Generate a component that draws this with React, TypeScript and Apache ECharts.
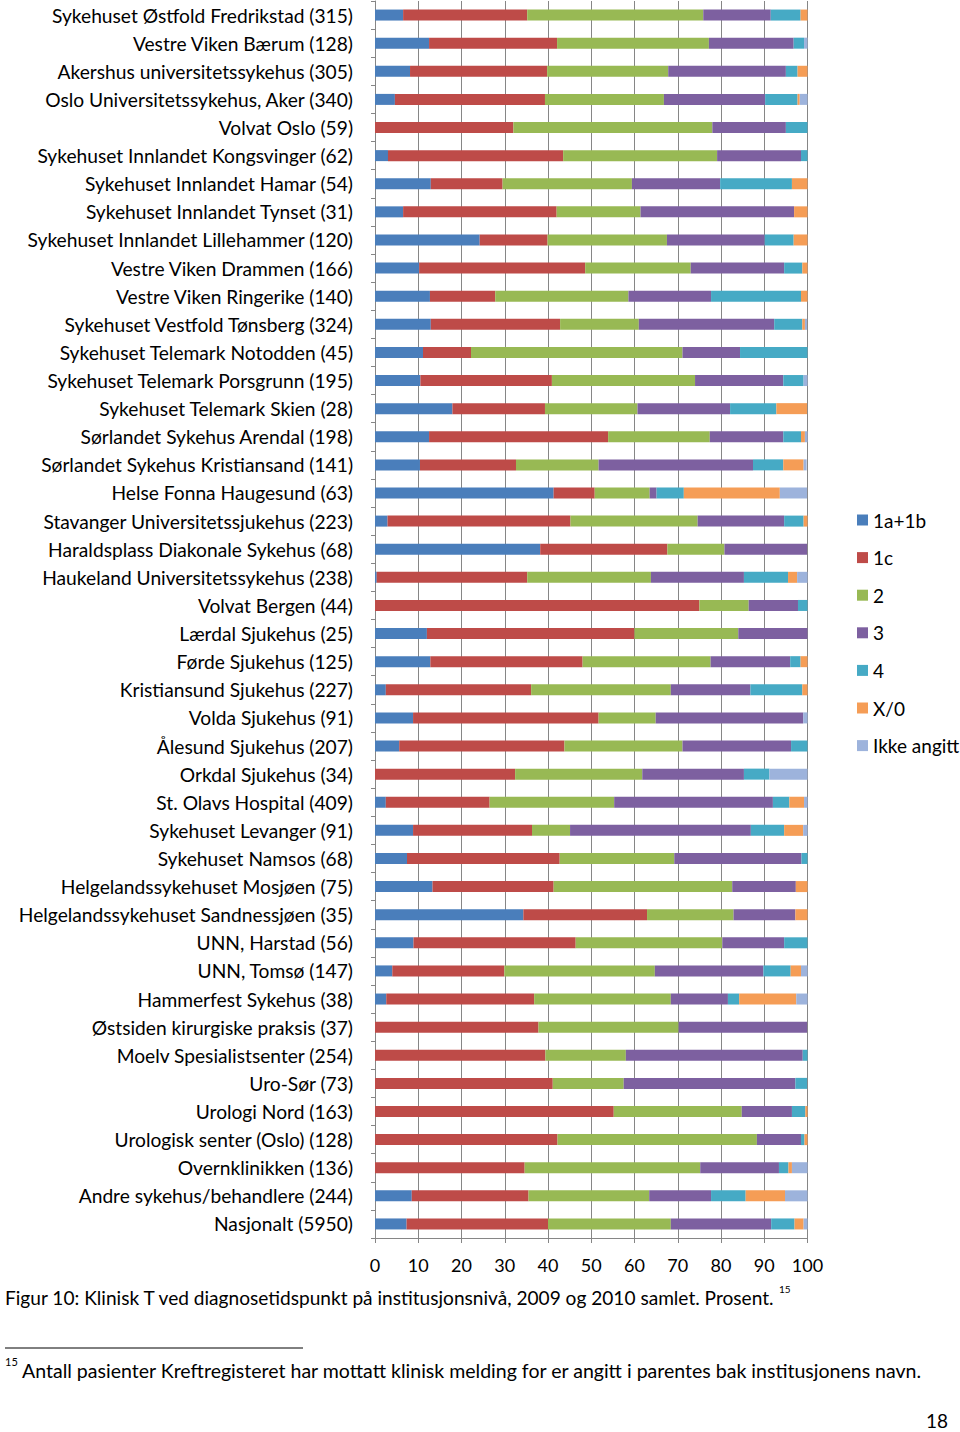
import React, { useEffect, useRef } from "react";
import * as echarts from "echarts";

const categories = [
  "Sykehuset Østfold Fredrikstad (315)",
  "Vestre Viken Bærum (128)",
  "Akershus universitetssykehus (305)",
  "Oslo Universitetssykehus, Aker (340)",
  "Volvat Oslo (59)",
  "Sykehuset Innlandet Kongsvinger (62)",
  "Sykehuset Innlandet Hamar (54)",
  "Sykehuset Innlandet Tynset (31)",
  "Sykehuset Innlandet Lillehammer (120)",
  "Vestre Viken Drammen (166)",
  "Vestre Viken Ringerike (140)",
  "Sykehuset Vestfold Tønsberg (324)",
  "Sykehuset Telemark Notodden (45)",
  "Sykehuset Telemark Porsgrunn (195)",
  "Sykehuset Telemark Skien (28)",
  "Sørlandet Sykehus Arendal (198)",
  "Sørlandet Sykehus Kristiansand (141)",
  "Helse Fonna Haugesund (63)",
  "Stavanger Universitetssjukehus (223)",
  "Haraldsplass Diakonale Sykehus (68)",
  "Haukeland Universitetssykehus (238)",
  "Volvat Bergen (44)",
  "Lærdal Sjukehus (25)",
  "Førde Sjukehus (125)",
  "Kristiansund Sjukehus (227)",
  "Volda Sjukehus (91)",
  "Ålesund Sjukehus (207)",
  "Orkdal Sjukehus (34)",
  "St. Olavs Hospital (409)",
  "Sykehuset Levanger (91)",
  "Sykehuset Namsos (68)",
  "Helgelandssykehuset Mosjøen (75)",
  "Helgelandssykehuset Sandnessjøen (35)",
  "UNN, Harstad (56)",
  "UNN, Tomsø (147)",
  "Hammerfest Sykehus (38)",
  "Østsiden kirurgiske praksis (37)",
  "Moelv Spesialistsenter (254)",
  "Uro-Sør (73)",
  "Urologi Nord (163)",
  "Urologisk senter (Oslo) (128)",
  "Overnklinikken (136)",
  "Andre sykehus/behandlere (244)",
  "Nasjonalt (5950)",
];

const seriesNames = ["1a+1b", "1c", "2", "3", "4", "X/0", "Ikke angitt"];

const t1ab = [6.5, 12.5, 8.1, 4.6, 0, 3.0, 12.9, 6.5, 24.2, 10.2, 12.7, 12.9, 11.1, 10.5, 17.9, 12.5, 10.4, 41.3, 2.9, 38.2, 0.4, 0, 12.0, 12.8, 2.5, 8.8, 5.6, 0, 2.5, 8.8, 7.4, 13.3, 34.3, 8.9, 4.0, 2.6, 0, 0, 0, 0, 0, 0, 8.5, 7.3];
const t1c = [28.7, 29.6, 31.7, 34.7, 32.0, 40.5, 16.6, 35.5, 15.7, 38.4, 15.1, 29.9, 11.1, 30.4, 21.4, 41.4, 22.2, 9.5, 42.3, 29.4, 34.8, 75.0, 48.0, 35.2, 33.6, 42.9, 38.2, 32.4, 24.0, 27.5, 35.3, 28.0, 28.6, 37.5, 25.9, 34.2, 37.8, 39.4, 41.1, 55.2, 42.2, 34.6, 27.0, 32.7];
const t2 = [40.7, 35.1, 28.0, 27.5, 46.0, 35.6, 29.9, 19.4, 27.6, 24.4, 30.8, 18.2, 48.9, 33.1, 21.4, 23.5, 19.1, 12.7, 29.4, 13.2, 28.6, 11.4, 24.0, 29.6, 32.3, 13.2, 27.3, 29.4, 28.8, 8.8, 26.5, 41.3, 20.0, 33.9, 34.8, 31.6, 32.4, 18.6, 16.4, 29.6, 46.1, 40.6, 27.9, 28.4];
const t3 = [15.6, 19.6, 27.2, 23.4, 17.0, 19.4, 20.4, 35.5, 22.6, 21.6, 19.1, 31.3, 13.3, 20.4, 21.4, 17.0, 35.7, 1.6, 20.0, 19.1, 21.5, 11.4, 16.0, 18.4, 18.4, 34.1, 25.1, 23.5, 36.7, 41.8, 29.4, 14.7, 14.3, 14.3, 25.1, 13.2, 29.7, 40.9, 39.7, 11.6, 10.2, 18.2, 14.3, 23.2];
const t4 = [6.9, 2.4, 2.7, 7.5, 5.0, 1.5, 16.6, 0, 6.7, 4.2, 20.8, 6.5, 15.6, 4.7, 10.7, 4.1, 7.0, 6.3, 4.5, 0, 10.2, 2.3, 0, 2.4, 12.0, 0, 3.8, 5.9, 3.8, 7.7, 1.5, 0, 0, 5.4, 6.3, 2.6, 0, 1.1, 2.7, 3.1, 0.8, 2.2, 8.0, 5.4];
const tX = [1.6, 0, 2.3, 0.5, 0, 0, 3.6, 3.2, 3.2, 1.2, 1.5, 0.6, 0, 0, 7.1, 0.9, 4.7, 22.2, 0.9, 0, 2.1, 0, 0, 1.6, 1.2, 0, 0, 0, 3.4, 4.4, 0, 2.7, 2.9, 0, 2.4, 13.2, 0, 0, 0, 0.5, 0.8, 0.8, 9.1, 2.1];
const tIkke = [0, 0.8, 0, 1.8, 0, 0, 0, 0, 0, 0, 0, 0.5, 0, 0.9, 0, 0.6, 0.7, 6.3, 0, 0, 2.4, 0, 0, 0, 0, 1.1, 0, 8.8, 0.8, 1.1, 0, 0, 0, 0, 1.5, 2.6, 0, 0, 0, 0, 0, 3.6, 5.2, 0.9];

const xTicks = [0, 10, 20, 30, 40, 50, 60, 70, 80, 90, 100];

const colors = ["#4A7EBB", "#BE4B48", "#98B954", "#7D60A0", "#46AAC5", "#F59D56", "#9DB3DC"];

const FONT = "Lato, 'Open Sans', sans-serif";

export default function App() {
  const ref = useRef<HTMLDivElement>(null);
  useEffect(() => {
    if (!ref.current) return;
    const chart = echarts.init(ref.current, null, { renderer: "svg" });
    const allData = [t1ab, t1c, t2, t3, t4, tX, tIkke];
    chart.setOption({
      animation: false,
      color: colors,
      textStyle: { fontFamily: FONT },
      grid: { left: 375, right: 152.5, top: 1, bottom: 194, containLabel: false },
      legend: {
        orient: "vertical",
        left: 852,
        top: 505,
        icon: "rect",
        itemWidth: 11,
        itemHeight: 11,
        itemGap: 17.6,
        textStyle: { fontSize: 19, color: "#000", fontFamily: FONT, lineHeight: 20, padding: [0, 0, 0, 0] },
        data: seriesNames,
      },
      xAxis: {
        type: "value",
        min: xTicks[0],
        max: xTicks[xTicks.length - 1],
        interval: 10,
        axisLine: { show: true, lineStyle: { color: "#868686", width: 1 } },
        axisTick: { show: true, length: 5, lineStyle: { color: "#868686" } },
        splitLine: { show: true, lineStyle: { color: "#868686", width: 1 } },
        axisLabel: { fontSize: 18, color: "#000", margin: 18, fontFamily: FONT },
      },
      yAxis: {
        type: "category",
        inverse: true,
        data: categories,
        axisLine: { show: true, lineStyle: { color: "#868686", width: 1 } },
        axisTick: { show: true, length: 4, lineStyle: { color: "#868686" } },
        axisLabel: { fontSize: 19.2, color: "#000", margin: 22, fontFamily: FONT },
      },
      series: seriesNames.map((name, i) => ({
        name,
        type: "bar",
        stack: "total",
        barWidth: 11,
        data: allData[i],
        itemStyle: { color: colors[i] },
      })),
      graphic: [
        {
          type: "text",
          left: 5,
          top: 1288,
          style: {
            text: "Figur 10: Klinisk T ved diagnosetidspunkt på institusjonsnivå, 2009 og 2010 samlet. Prosent.",
            fontSize: 19.1,
            fill: "#000",
            fontFamily: FONT,
          },
        },
        {
          type: "text",
          left: 779,
          top: 1284,
          style: { text: "15", fontSize: 10, fill: "#000", fontFamily: FONT },
        },
        {
          type: "line",
          shape: { x1: 5, y1: 1348, x2: 303, y2: 1348 },
          style: { stroke: "#000", lineWidth: 1 },
        },
        {
          type: "text",
          left: 5,
          top: 1356,
          style: { text: "15", fontSize: 11, fill: "#000", fontFamily: FONT },
        },
        {
          type: "text",
          left: 22,
          top: 1360,
          style: {
            text: "Antall pasienter Kreftregisteret har mottatt klinisk melding for er angitt i parentes bak institusjonens navn.",
            fontSize: 19.55,
            fill: "#000",
            fontFamily: FONT,
          },
        },
        {
          type: "text",
          left: 926,
          top: 1411,
          style: { text: "18", fontSize: 19, fill: "#000", fontFamily: FONT },
        },
      ],
    });
    return () => chart.dispose();
  }, []);
  return (
    <div
      ref={ref}
      style={{ position: "absolute", left: 0, top: 0, width: 960, height: 1432, background: "#fff" }}
    />
  );
}
